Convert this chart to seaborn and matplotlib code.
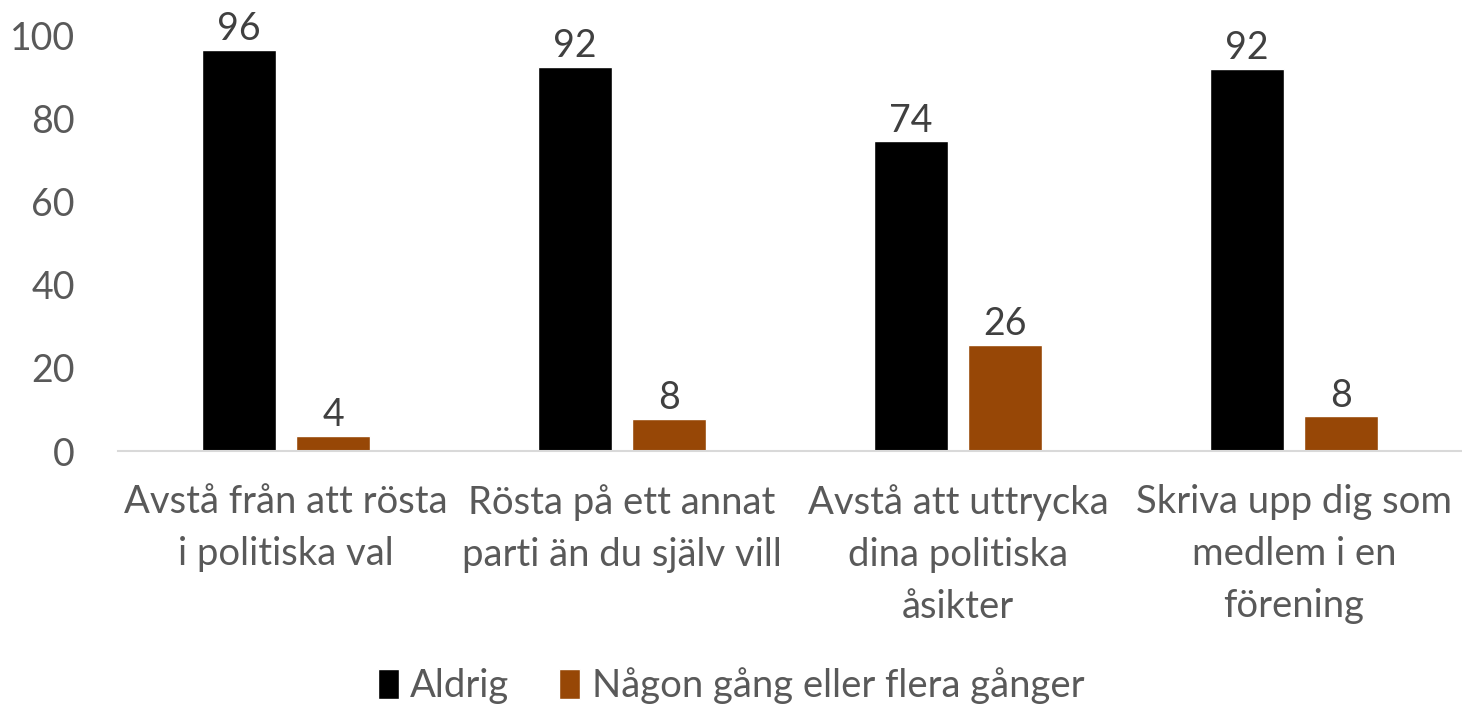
import pandas as pd
import numpy as np
import matplotlib
matplotlib.use('Agg')
import matplotlib.pyplot as plt
import seaborn as sns

# Data
categories = ['Avstå från att rösta\ni politiska val',
              'Rösta på ett annat\nparti än du själv vill',
              'Avstå att uttrycka\ndina politiska\nåsikter',
              'Skriva upp dig som\nmedlem i en\nförening']
aldrig = [96.4, 92.4, 74.4, 91.8]
nagon_gang = [3.6, 7.8, 25.6, 8.3]
series_names = ['Aldrig', 'Någon gång eller flera gånger']
labels_aldrig = ['96', '92', '74', '92']
labels_nagon = ['4', '8', '26', '8']

df = pd.DataFrame({
    'kategori': categories * 2,
    'serie': [series_names[0]] * 4 + [series_names[1]] * 4,
    'andel': aldrig + nagon_gang,
})

sns.set_style('white')
plt.rcParams['font.family'] = ['Lato', 'DejaVu Sans']

fig = plt.figure(figsize=(14.62, 7.07), dpi=100)
ax = fig.add_axes([118 / 1462, 1 - 451 / 707, 1344 / 1462, 416 / 707])

palette = {series_names[0]: '#000000', series_names[1]: '#974706'}
sns.barplot(data=df, x='kategori', y='andel', hue='serie', palette=palette,
            width=0.56, gap=0.21, ax=ax, saturation=1, legend=True)

for cont, labs in zip(ax.containers, [labels_aldrig, labels_nagon]):
    ax.bar_label(cont, labels=labs, padding=2, fontsize=27, color='#404040')

ax.set_ylim(0, 100)
ax.set_xlim(-0.5, 3.5)
ax.set_yticks(range(0, 101, 20))
ax.set_xlabel('')
ax.set_ylabel('')
ax.tick_params(axis='y', labelsize=27, colors='#595959', length=0, pad=31)
ax.tick_params(axis='x', labelsize=27.5, colors='#595959', length=0, pad=24)
for lab in ax.get_xticklabels():
    lab.set_linespacing(1.55)
for s in ['top', 'right', 'left']:
    ax.spines[s].set_visible(False)
ax.spines['bottom'].set_color('#d9d9d9')
ax.spines['bottom'].set_linewidth(1.5)

handles, labs = ax.get_legend_handles_labels()
ax.legend(handles, labs, loc='lower center', bbox_to_anchor=(0.5 - 118 / 1344 / 2, -0.645),
          bbox_transform=ax.transAxes, ncol=2, frameon=False, fontsize=27.5,
          handlelength=0.55, handleheight=0.85, handletextpad=0.3, columnspacing=1.3,
          labelcolor='#595959', borderaxespad=0)

fig.savefig('out.png', dpi=100)
